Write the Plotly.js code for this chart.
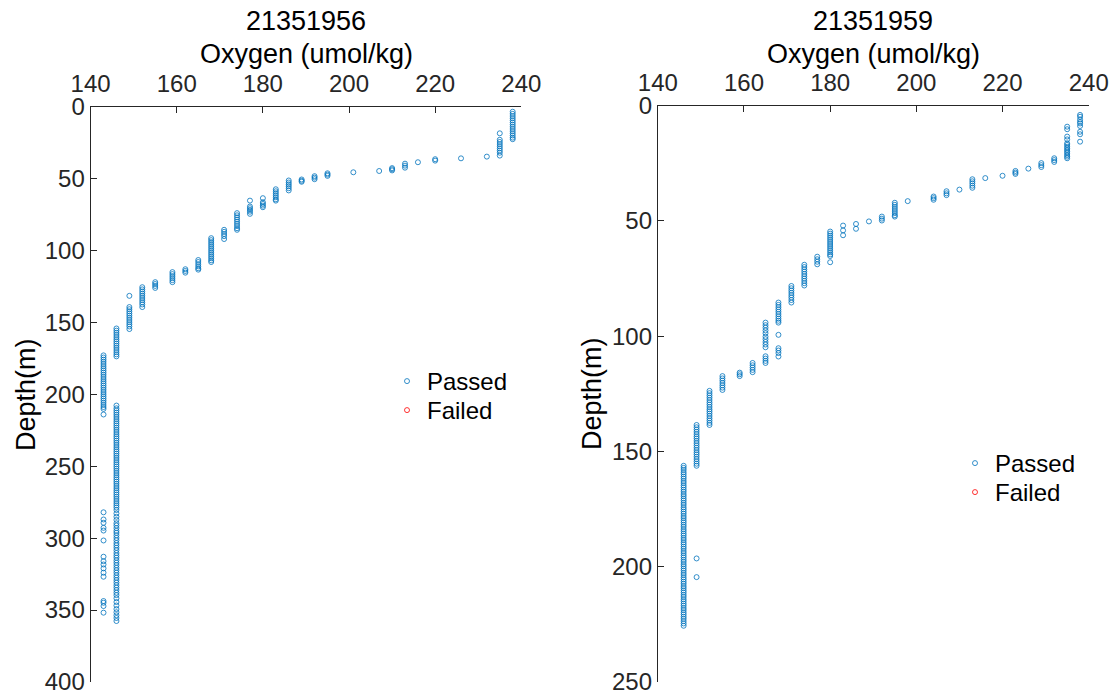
<!DOCTYPE html>
<html>
<head>
<meta charset="utf-8">
<script src="https://cdn.plot.ly/plotly-3.0.1.min.js"></script>
<style>
  html, body { margin: 0; padding: 0; background: #fff; }
  #chart { width: 1116px; height: 699px; }
</style>
</head>
<body>
<div id="chart"></div>
<script>
// Float 21351956: oxygen levels (umol/kg) and the depths (m) sampled at each level
const levels1956 = [238, 235, 232, 226, 220, 216, 213, 210, 207, 201, 195, 192, 189, 186, 183, 180, 177, 174, 171, 168, 165, 162, 159, 155, 152, 149, 146, 143];
const depths1956 = [
  [3.5, 5, 6.5, 8, 9.5, 11, 12.5, 14, 15.5, 17, 18.5, 20, 21.5, 22.6],
  [18.5, 23, 24.5, 26, 27.5, 29, 30.5, 32, 34],
  [34.7],
  [35.9],
  [36.5, 37.5],
  [38.6],
  [39.6, 41, 42.4],
  [42.7, 43.5, 44.3],
  [44.7],
  [45.6],
  [46.3, 47.2, 48.1],
  [48.3, 49.3, 50.4],
  [50.6, 51.5, 52.2],
  [51.3, 52.7, 54, 55.3, 56.7, 58.2],
  [57.4, 58.8, 60.2, 61.6, 63, 64.4, 65.3],
  [63.6, 66.4, 67.6, 68.8, 69.9],
  [65.3, 69.4, 70.6, 71.8, 73, 74.5],
  [74, 75.5, 77, 78.5, 80, 81.5, 83, 84.5, 85.6],
  [85.6, 87, 88.5, 90, 92],
  [91.4, 92.8, 94.2, 95.6, 97, 98.4, 99.8, 101.2, 102.6, 104, 105.4, 106.8, 108],
  [106.6, 108, 109.5, 111, 112.3, 113.3],
  [113, 114.2, 115.4],
  [115, 116.4, 117.8, 119.2, 120.6, 122],
  [122, 123.3, 124.6, 126],
  [125.5, 127, 128.5, 130, 131.5, 133, 134.5, 136, 137.5, 139.3],
  [131.5, 139.3, 140.8, 142.3, 143.8, 145.3, 146.8, 148.3, 149.8, 151.3, 152.8, 154.6],
  [154.2, 155.7, 157.2, 158.7, 160.2, 161.7, 163.2, 164.7, 166.2, 167.7, 169.2, 170.7, 172.2, 173.6,
   207.8, 209.7, 211.2, 212.7, 214.2, 215.7, 217.2, 218.7, 220.2, 221.7, 223.2, 224.7, 226.2, 227.7,
   229.2, 230.7, 232.2, 233.7, 235.2, 236.7, 238.2, 239.7, 241.2, 242.7, 244.2, 245.7, 247.2, 248.7,
   250.2, 251.7, 253.2, 254.7, 256.2, 257.7, 259.2, 260.7, 262.2, 263.7, 265.2, 266.7, 268.2, 269.7,
   271.2, 272.7, 274.2, 275.7, 277.2, 278.7, 280.4, 282.8, 285.1, 287.3, 289.6, 291.2, 293.0, 294.9,
   296.3, 298.0, 299.8, 301.5, 303.4, 305.0, 306.7, 308.4, 310.3, 312.0, 313.6, 315.4, 317.1, 318.8,
   320.6, 322.3, 324.0, 325.8, 327.5, 329.2, 330.9, 332.7, 334.4, 336.1, 337.9, 339.6, 341.8, 344.4,
   346.8, 349.3, 351.5, 353.6, 355.5, 357.6],
  [172.9, 174.4, 175.9, 177.4, 178.9, 180.4, 181.9, 183.4, 184.9, 186.4, 187.9, 189.4, 190.9, 192.4,
   193.9, 195.4, 196.9, 198.4, 199.9, 201.4, 202.9, 204.4, 205.9, 207.4, 208.8, 210.1, 214.0,
   282.0, 287.0, 289.3, 292.8, 294.7, 301.6, 312.9, 316.0, 318.3, 321.0, 324.0, 326.8,
   343.7, 344.9, 347.2, 351.8]
];

// Float 21351959
const levels1959 = [238, 235, 232, 229, 226, 223, 220, 216, 213, 210, 207, 204, 198, 195, 192, 189, 186, 183, 180, 177, 174, 171, 168, 165, 162, 159, 155, 152, 149, 146];
const depths1959 = [
  [4, 4.8, 6, 7, 7.7, 8.8, 11.3, 12.4, 15.6],
  [9.1, 10.2, 13.4, 14.6, 16.3, 17.0, 17.8, 18.5, 19.2, 19.9, 20.6, 21.4, 22.1, 22.8],
  [22.8, 23.6, 24.4],
  [24.9, 25.8, 26.6],
  [27.3],
  [28.3, 29.0, 29.6],
  [30.4],
  [31.4],
  [31.9, 32.8, 33.7, 34.7, 35.6],
  [36.4],
  [37.1, 38.0, 38.8],
  [39.4, 40.1, 40.8],
  [41.4],
  [42.1, 43.0, 43.9, 44.8, 45.7, 46.6, 47.5, 48.1],
  [48.1, 49.0, 49.8],
  [50.2],
  [51.3, 53.4],
  [52.0, 54.1, 56.2],
  [54.6, 55.5, 56.4, 57.3, 58.2, 59.1, 60.0, 60.9, 61.8, 62.7, 63.6, 64.5, 65.2, 67.9],
  [65.5, 66.6, 67.7, 68.8],
  [69, 70, 71, 72, 73, 74, 75, 76, 77, 78],
  [78.2, 79.2, 80.2, 81.2, 82.2, 83.2, 84.3, 85.4],
  [85.4, 86.4, 87.4, 88.4, 89.4, 90.4, 91.4, 92.4, 93.3, 94.1, 99.4, 105.2, 106.2, 107.3, 108.8],
  [94.1, 95.2, 96.3, 97.5, 98.7, 100.2, 101.3, 102.5, 103.6, 104.8, 108.7, 109.7, 110.7, 111.6],
  [111.6, 112.6, 113.6, 114.6, 115.6],
  [115.8, 116.5, 117.3],
  [117.3, 118.3, 119.3, 120.3, 121.3, 122.3, 123.3],
  [123.7, 124.7, 125.7, 126.7, 127.7, 128.7, 129.7, 130.7, 131.7, 132.6, 133.6, 134.6, 135.6, 136.6, 137.6, 138.5],
  [138.5, 139.5, 140.5, 141.5, 142.5, 143.5, 144.4, 145.4, 146.4, 147.4, 148.4, 149.4, 150.4, 151.3,
   152.3, 153.3, 154.3, 155.3, 156.2, 196.4, 204.5],
  [156.2, 157.1, 158.0, 159.0, 159.9, 160.9, 161.8, 162.8, 163.7, 164.7, 165.6, 166.6, 167.5, 168.5,
   169.4, 170.4, 171.3, 172.3, 173.2, 174.2, 175.1, 176.1, 177.0, 178.0, 178.9, 179.9, 180.8, 181.8,
   182.7, 183.7, 184.6, 185.6, 186.5, 187.5, 188.4, 189.4, 190.3, 191.3, 192.2, 193.2, 194.1, 195.1,
   196.0, 197.0, 197.9, 198.9, 199.8, 200.8, 201.7, 202.7, 203.6, 204.6, 205.5, 206.5, 207.4, 208.4,
   209.3, 210.3, 211.2, 212.2, 213.1, 214.1, 215.0, 216.0, 216.9, 217.9, 218.8, 219.8, 220.7, 221.7,
   222.6, 223.6, 224.6, 225.6]
];

// No samples were flagged by the QC on either float
const failedOxygen = [];
const failedDepth = [];

const floatIds = ['21351956', '21351959'];
const depthTicks1956 = [0, 50, 100, 150, 200, 250, 300, 350, 400];
const depthTicks1959 = [0, 50, 100, 150, 200, 250];
const oxygenTicks = [140, 160, 180, 200, 220, 240];

function flatten(levels, depths) {
  const x = [], y = [];
  levels.forEach((lv, i) => depths[i].forEach(d => { x.push(lv); y.push(d); }));
  return { x, y };
}
// an empty series still needs a placeholder so its legend entry is drawn
const orGap = arr => (arr.length ? arr : [null]);

const passBlue = '#0072BD';
const failRed = '#FF0000';
const axisInk = '#262626';
const FONT = '"Liberation Sans", Arial, Helvetica, sans-serif';

const p1 = flatten(levels1956, depths1956);
const p2 = flatten(levels1959, depths1959);

function markerOf(c) {
  return { symbol: 'circle-open', size: 5, color: c, line: { color: c, width: 0.8 } };
}

// each legend entry sits in its own legend box so the rows can be spaced tightly
const traces = [
  { x: p1.x, y: p1.y, xaxis: 'x', yaxis: 'y', type: 'scatter', mode: 'markers',
    name: 'Passed', marker: markerOf(passBlue), legend: 'legend' },
  { x: orGap(failedOxygen), y: orGap(failedDepth), xaxis: 'x', yaxis: 'y', type: 'scatter', mode: 'markers',
    name: 'Failed', marker: markerOf(failRed), legend: 'legend3' },
  { x: p2.x, y: p2.y, xaxis: 'x2', yaxis: 'y2', type: 'scatter', mode: 'markers',
    name: 'Passed', marker: markerOf(passBlue), legend: 'legend2' },
  { x: orGap(failedOxygen), y: orGap(failedDepth), xaxis: 'x2', yaxis: 'y2', type: 'scatter', mode: 'markers',
    name: 'Failed', marker: markerOf(failRed), legend: 'legend4' }
];

const W = 1116, H = 699;
const px = v => v / W;
const py = v => 1 - v / H;

function xAxis(domain, anchor) {
  return {
    domain, anchor, side: 'top', range: [140, 240], tickvals: oxygenTicks,
    ticks: 'inside', ticklen: 6, tickcolor: axisInk, tickwidth: 1, ticklabelstandoff: 4,
    showline: true, linecolor: axisInk, linewidth: 1, mirror: false,
    showgrid: false, zeroline: false,
    tickfont: { family: FONT, size: 24, color: axisInk }
  };
}
function yAxis(domain, anchor, top, ticks) {
  return {
    domain, anchor, range: [top, 0], tickvals: ticks,
    ticks: 'inside', ticklen: 6, tickcolor: axisInk, tickwidth: 1,
    showline: true, linecolor: axisInk, linewidth: 1, mirror: false,
    showgrid: false, zeroline: false,
    tickfont: { family: FONT, size: 24, color: axisInk }
  };
}

function legendAt(x, y) {
  return {
    x, y, xanchor: 'left', yanchor: 'top', bgcolor: 'rgba(0,0,0,0)', borderwidth: 0,
    font: { family: FONT, size: 24, color: '#000' }, tracegroupgap: 0, itemwidth: 30
  };
}

function label(text, x, y, size, angle) {
  return { text, x: px(x), y: py(y), xref: 'paper', yref: 'paper', showarrow: false,
    xanchor: 'center', yanchor: 'middle', textangle: angle || 0,
    font: { family: FONT, size, color: '#000' } };
}

const layout = {
  width: W, height: H,
  margin: { l: 0, r: 0, t: 0, b: 0 },
  paper_bgcolor: '#fff', plot_bgcolor: '#fff',
  showlegend: true,
  xaxis: xAxis([px(90.6), px(521.3)], 'y'),
  yaxis: yAxis([py(682), py(106.7)], 'x', 400, depthTicks1956),
  xaxis2: xAxis([px(657.8), px(1088.7)], 'y2'),
  yaxis2: yAxis([py(682), py(105.7)], 'x2', 250, depthTicks1959),
  legend: legendAt(px(387), py(359)),
  legend3: legendAt(px(387), py(388)),
  legend2: legendAt(px(955), py(441)),
  legend4: legendAt(px(955), py(470)),
  annotations: [
    label(floatIds[0], 306, 21, 27),
    label('Oxygen (umol/kg)', 306, 54, 27),
    label('Depth(m)', 26, 395, 27, -90),
    label(floatIds[1], 873, 21, 27),
    label('Oxygen (umol/kg)', 873, 54, 27),
    label('Depth(m)', 592, 394, 27, -90)
  ]
};

Plotly.newPlot('chart', traces, layout, { staticPlot: true, displayModeBar: false });
</script>
</body>
</html>
